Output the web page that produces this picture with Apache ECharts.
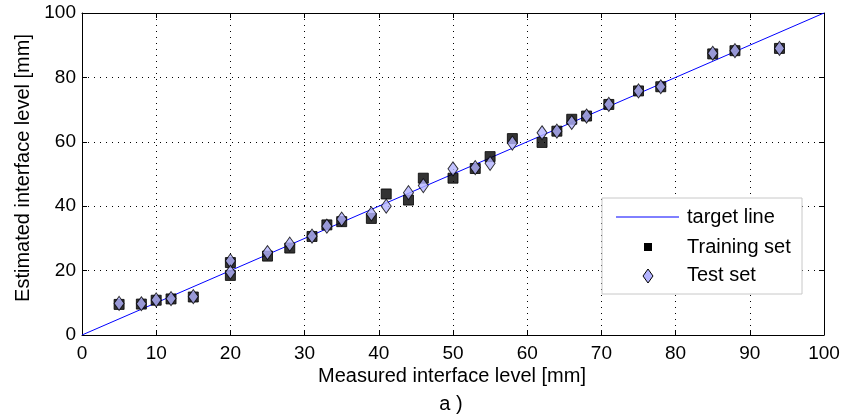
<!DOCTYPE html>
<html>
<head>
<meta charset="utf-8">
<script src="https://cdn.jsdelivr.net/npm/echarts@6/dist/echarts.min.js"></script>
<style>html,body{margin:0;padding:0;background:#fff}#c{width:845px;height:418px}</style>
</head>
<body>
<div id="c"></div>
<script>
var xTicks = [0,10,20,30,40,50,60,70,80,90,100];
var yTicks = [0,20,40,60,80,100];
var targetLine = [[0,0],[100,100]];
var trainX = [5,8,10,12,15,20,20,25,28,31,33,35,39,41,44,46,50,53,55,58,62,64,66,68,71,75,78,85,88,94];
var trainY = [9.5,9.6,10.8,11.2,11.8,18.5,22.5,24.5,27,30.6,34.2,35.2,36.2,43.8,41.9,48.7,48.7,51.7,55.4,61,59.8,63.3,67,68,71.6,75.8,77.1,87.3,88.3,89];
var testX = [5,8,10,12,15,20,20,25,28,31,33,35,39,41,44,46,50,53,55,58,62,64,66,68,71,75,78,85,88,94];
var testY = [9.8,9.7,10.9,11.3,11.9,23,19.5,25.6,28.2,30.7,33.8,36,37.6,40,44.2,46.4,51.6,52,53.3,59.6,62.8,63.3,66,68,71.6,75.8,77.1,87.5,88.3,89];

var FONT = 'Liberation Sans, Arial, sans-serif';
var chart = echarts.init(document.getElementById('c'), null, {renderer:'canvas'});
function pairs(xs, ys){ return xs.map(function(x,i){return [x, ys[i]];}); }
var diamond = 'path://M5,0L10,7L5,14L0,7Z';

var gridL = 82, gridT = 13, gridR = 21, gridB = 83;
var axisCommon = {
  min:0, max:100,
  axisLine:{show:true, onZero:false, lineStyle:{color:'#000', width:1}},
  axisTick:{show:true, inside:true, length:5, lineStyle:{color:'#000'}},
  axisLabel:{show:false},
  splitLine:{show:false}
};
chart.setOption({
  animation:false,
  grid:{left:gridL, top:gridT, right:gridR, bottom:gridB, containLabel:false},
  xAxis:[
    Object.assign({}, axisCommon, {
      type:'value', position:'bottom', interval:10,
      axisLabel:{show:true, color:'#000', fontFamily:FONT, fontSize:19, margin:9},
      splitLine:{show:true, lineStyle:{color:'#000', type:[1,5], width:1}}
    }),
    Object.assign({}, axisCommon, {type:'value', position:'top', interval:10})
  ],
  yAxis:[
    Object.assign({}, axisCommon, {
      type:'value', position:'left', interval:20,
      axisLabel:{show:true, color:'#000', fontFamily:FONT, fontSize:19, margin:6},
      splitLine:{show:true, lineStyle:{color:'#000', type:[1,5], width:1}}
    }),
    Object.assign({}, axisCommon, {type:'value', position:'right', interval:20})
  ],
  series:[
    {name:'target line', type:'line', data:targetLine, symbol:'none', z:2,
     lineStyle:{color:'#0000ff', width:1}},
    {name:'Training set', type:'scatter', data:pairs(trainX, trainY), symbol:'rect', symbolSize:10, z:3,
     itemStyle:{color:'#000', borderColor:'#000', borderWidth:1}},
    {name:'Test set', type:'scatter', data:pairs(testX, testY), symbol:diamond, symbolSize:[10,14], z:4,
     itemStyle:{color:'#b3b3ff', borderColor:'#000', borderWidth:1}}
  ],
  graphic:[
    {type:'text', x:452, y:376, style:{text:'Measured interface level [mm]', fill:'#000', font:'20px ' + FONT, align:'center', verticalAlign:'middle'}, z:11},
    {type:'text', x:23, y:168, rotation:Math.PI/2, style:{text:'Estimated interface level [mm]', fill:'#000', font:'20px ' + FONT, align:'center', verticalAlign:'middle'}, z:11},
    {type:'text', x:451, y:404, style:{text:'a )', fill:'#000', font:'20px ' + FONT, align:'center', verticalAlign:'middle'}, z:11},
    {type:'rect', shape:{x:602, y:198, width:200, height:96}, style:{fill:'#fff', stroke:'#c8c8c8', lineWidth:1}, z:10},
    {type:'line', shape:{x1:616, y1:217, x2:679, y2:217}, style:{stroke:'#0000ff', lineWidth:1}, z:11},
    {type:'text', x:687, y:217, style:{text:'target line', fill:'#000', font:'20px ' + FONT, verticalAlign:'middle'}, z:11},
    {type:'rect', shape:{x:644, y:243, width:8, height:8}, style:{fill:'#000'}, z:11},
    {type:'text', x:687, y:247, style:{text:'Training set', fill:'#000', font:'20px ' + FONT, verticalAlign:'middle'}, z:11},
    {type:'polygon', shape:{points:[[648,269],[653,276],[648,283],[643,276]]}, style:{fill:'#b3b3ff', stroke:'#000', lineWidth:1}, z:11},
    {type:'text', x:687, y:275, style:{text:'Test set', fill:'#000', font:'20px ' + FONT, verticalAlign:'middle'}, z:11}
  ]
});
</script>
</body>
</html>
